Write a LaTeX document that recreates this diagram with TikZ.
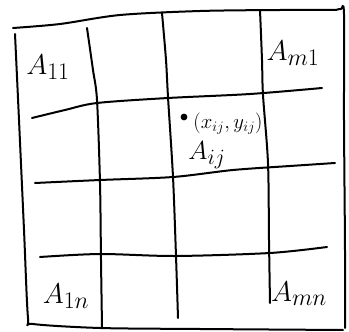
\documentclass[tikz,border=0pt]{standalone}
\usepackage{amsmath,amssymb}
\usepackage{tikz}

\begin{document}
\begin{tikzpicture}[x=1pt,y=-1pt,line width=2pt,line cap=round,line join=round]
  \useasboundingbox (0,0) rectangle (349,332);
  % frame
  \draw plot[smooth,tension=0.5] coordinates {(13,28) (60,24) (120,15) (200,11) (280,10) (336,10)};
  \draw plot[smooth,tension=0.5] coordinates {(336,10) (341,9) (344,14) (344,120) (345,250) (345,328)};
  \draw plot[smooth,tension=0.5] coordinates {(15,34) (19,120) (24,230) (28,318) (33,324) (100,328) (200,329) (343,330)};
  % columns
  \draw plot[smooth,tension=0.5] coordinates {(87,28) (93,70) (97,100) (100,183) (101,260) (102,327)};
  \draw plot[smooth,tension=0.5] coordinates {(162,13) (166,60) (168,97) (173,177) (176,256) (178,318)};
  \draw plot[smooth,tension=0.5] coordinates {(260,10) (262,60) (263,95) (268,163) (269,240) (270,303)};
  % rows
  \draw plot[smooth,tension=0.5] coordinates {(32,118) (65,110) (97,103) (168,98) (250,94) (322,88)};
  \draw plot[smooth,tension=0.5] coordinates {(35,183) (100,180) (173,177) (233,170) (290,166) (335,163)};
  \draw plot[smooth,tension=0.5] coordinates {(40,257) (100,254) (175,256) (270,253) (327,247)};
  % labels
  \node[font=\Huge,scale=1.15] (a11) at (48,67) {$A_{11}$};
  \node[font=\Huge,scale=1.15] (am1) at (293,53) {$A_{m1}$};
  \node[font=\Huge,scale=1.15] (a1n) at (66,296) {$A_{1n}$};
  \node[font=\Huge,scale=1.15] (amn) at (299,294) {$A_{mn}$};
  \node[circle,fill,inner sep=2.4pt] (dot) at (184,117) {};
  \node[font=\fontsize{20}{24}\selectfont] (pij) at (228,124) {$(x_{ij},y_{ij})$};
  \node[font=\Huge,scale=1.05] (aij) at (207,155) {$A_{ij}$};
\end{tikzpicture}
\end{document}
